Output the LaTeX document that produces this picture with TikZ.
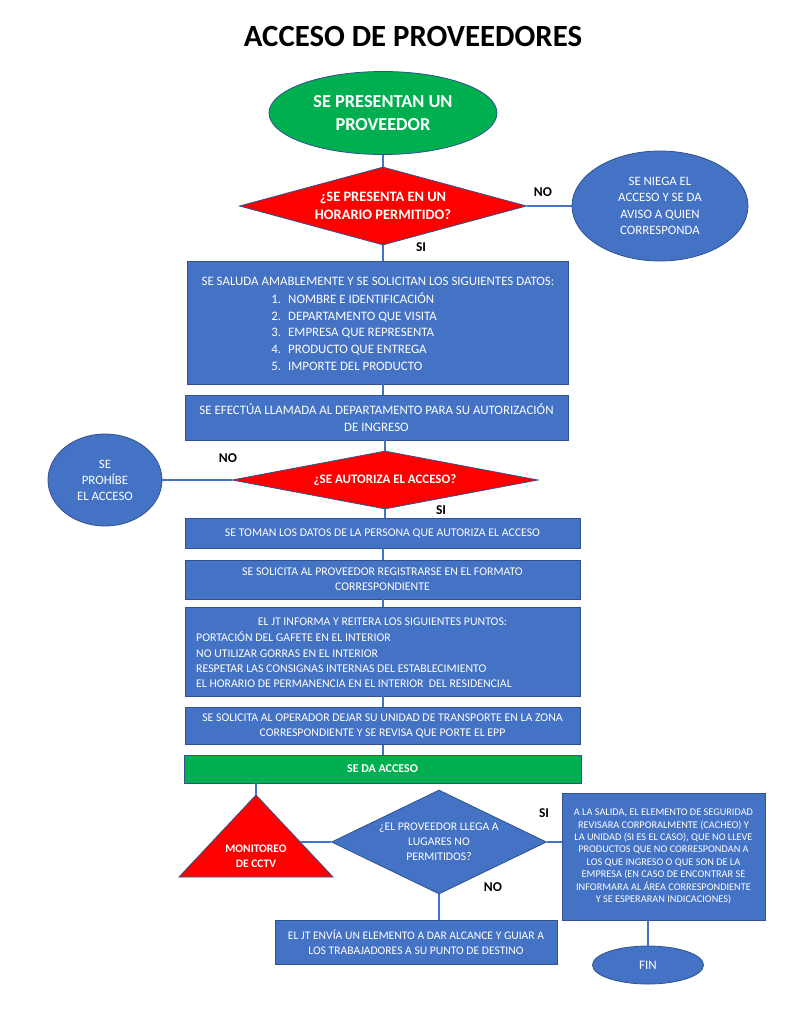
\documentclass[tikz,border=0pt]{standalone}
\usepackage{fontspec}
\setmainfont{Carlito}
\usetikzlibrary{shapes.geometric}
\definecolor{boxblue}{HTML}{4472C4}
\definecolor{bordc}{HTML}{2F528F}
\definecolor{lineblue}{HTML}{4472C4}
\definecolor{okgreen}{HTML}{00B050}
\definecolor{alarm}{HTML}{FF0000}
\newcommand{\fsz}[2]{\fontsize{#1}{#2}\selectfont}
\tikzset{
  shp/.style={draw=bordc, line width=0.8pt, text=white, inner sep=0pt, align=center},
  bx/.style={shp, fill=boxblue, rectangle},
  conn/.style={draw=lineblue, line width=1.3pt},
  lbl/.style={font=\bfseries\fsz{13.5}{16}, text=black, inner sep=0pt},
  wtxt/.style={text=white, inner sep=0pt},
}
\begin{document}
\begin{tikzpicture}[x=1pt,y=-1pt]
\useasboundingbox (0,0) rectangle (791,1024);
\fill[white] (0,0) rectangle (791,1024);

% title
\node[inner sep=0pt, font=\bfseries\fsz{30.8}{34}] (title) at (413,37) {ACCESO DE PROVEEDORES};

% start
\node[shp, ellipse, fill=okgreen, minimum width=228, minimum height=83, font=\bfseries\fsz{18.3}{23}] (start) at (383,113) {SE PRESENTAN UN\\PROVEEDOR};

% decision 1
\node[shp, diamond, fill=alarm, minimum width=287, minimum height=78, aspect=3.7, font=\bfseries\fsz{14.4}{18}] (d1) at (383,206) {¿SE PRESENTA EN UN\\HORARIO PERMITIDO?};

% deny ellipse
\node[shp, ellipse, fill=boxblue, minimum width=176, minimum height=110, font=\fsz{12.8}{16.5}] (e1) at (660,206) {SE NIEGA EL\\ACCESO Y SE DA\\AVISO A QUIEN\\CORRESPONDA};

% box 1
\node[bx, minimum width=381, minimum height=123] (b1) at (377.5,322.5) {};
\node[wtxt, font=\fsz{12.9}{17}] (b1h) at (378,281) {SE SALUDA AMABLEMENTE Y SE SOLICITAN LOS SIGUIENTES DATOS:};
\node[wtxt, font=\fsz{12.9}{16.8}, align=left, anchor=west] (b1l) at (270,331.5) {%
\makebox[11pt][r]{1.}\hspace{7pt}NOMBRE E IDENTIFICACIÓN\\
\makebox[11pt][r]{2.}\hspace{7pt}DEPARTAMENTO QUE VISITA\\
\makebox[11pt][r]{3.}\hspace{7pt}EMPRESA QUE REPRESENTA\\
\makebox[11pt][r]{4.}\hspace{7pt}PRODUCTO QUE ENTREGA\\
\makebox[11pt][r]{5.}\hspace{7pt}IMPORTE DEL PRODUCTO};

% box 2
\node[bx, minimum width=383, minimum height=45, font=\fsz{12.9}{17}] (b2) at (376.5,417.5) {SE EFECTÚA LLAMADA AL DEPARTAMENTO PARA SU AUTORIZACIÓN\\DE INGRESO};

% decision 2
\node[shp, diamond, fill=alarm, minimum width=306, minimum height=58, aspect=5.2, font=\bfseries\fsz{12.9}{15}] (d2) at (385,480) {¿SE AUTORIZA EL ACCESO?};

% forbid ellipse
\node[shp, ellipse, fill=boxblue, minimum width=114, minimum height=92, font=\fsz{12.8}{16}] (e2) at (105,480) {SE\\PROHÍBE\\EL ACCESO};

% boxes 3-6
\node[bx, minimum width=395, minimum height=30, font=\fsz{11.8}{15}] (b3) at (382.5,533) {SE TOMAN LOS DATOS DE LA PERSONA QUE AUTORIZA EL ACCESO};
\node[bx, minimum width=395, minimum height=39, font=\fsz{11.8}{15}] (b4) at (382.5,579.5) {SE SOLICITA AL PROVEEDOR REGISTRARSE EN EL FORMATO\\CORRESPONDIENTE};
\node[bx, minimum width=395, minimum height=89] (b5) at (382.5,651.5) {};
\node[wtxt, font=\fsz{11.8}{15}] (b5h) at (382.5,622) {EL JT INFORMA Y REITERA LOS SIGUIENTES PUNTOS:};
\node[wtxt, font=\fsz{11.8}{15.3}, align=left, anchor=west] (b5l) at (196,660) {%
PORTACIÓN DEL GAFETE EN EL INTERIOR\\
NO UTILIZAR GORRAS EN EL INTERIOR\\
RESPETAR LAS CONSIGNAS INTERNAS DEL ESTABLECIMIENTO\\
EL HORARIO DE PERMANENCIA EN EL INTERIOR\ \ DEL RESIDENCIAL};
\node[bx, minimum width=395, minimum height=37, font=\fsz{11.8}{15.5}] (b6) at (382.5,726) {SE SOLICITA AL OPERADOR DEJAR SU UNIDAD DE TRANSPORTE EN LA ZONA\\CORRESPONDIENTE Y SE REVISA QUE PORTE EL EPP};

% access granted
\node[shp, rectangle, fill=okgreen, minimum width=397, minimum height=28, font=\bfseries\fsz{12}{14}] (ok) at (382.5,769) {SE DA ACCESO};

% triangle (CCTV)
\coordinate (triA) at (256,795);
\coordinate (triR) at (333,877);
\coordinate (triL) at (179,877);
\coordinate (triE) at (300,842);
\filldraw[fill=alarm, draw=bordc, line width=0.8pt] (triA) -- (triR) -- (triL) -- cycle;
\node[wtxt, font=\bfseries\fsz{11.5}{15}, align=center] (trit) at (256,856) {MONITOREO\\DE CCTV};

% decision 3
\node[shp, diamond, fill=boxblue, minimum width=215, minimum height=104, aspect=2.07, font=\fsz{11.7}{15}] (d3) at (439,842) {¿EL PROVEEDOR LLEGA A\\LUGARES NO\\PERMITIDOS?};

% box 7
\node[bx, minimum width=203, minimum height=127, font=\fsz{10.3}{12.4}] (b7) at (663.5,856.5) {A LA SALIDA, EL ELEMENTO DE SEGURIDAD\\REVISARA CORPORALMENTE (CACHEO) Y\\LA UNIDAD (SI ES EL CASO), QUE NO LLEVE\\PRODUCTOS QUE NO CORRESPONDAN A\\LOS QUE INGRESO O QUE SON DE LA\\EMPRESA (EN CASO DE ENCONTRAR SE\\INFORMARA AL ÁREA CORRESPONDIENTE\\Y SE ESPERARAN INDICACIONES)};

% box 8
\node[bx, minimum width=282, minimum height=44, font=\fsz{11.6}{15}] (b8) at (416,942) {EL JT ENVÍA UN ELEMENTO A DAR ALCANCE Y GUIAR A\\LOS TRABAJADORES A SU PUNTO DE DESTINO};

% end
\node[shp, ellipse, fill=boxblue, minimum width=111, minimum height=38, font=\fsz{13}{15}] (fin) at (648,965) {FIN};

% connectors
\draw[conn] (start.south) -- (d1.north);
\draw[conn] (d1.east) -- (e1.west);
\draw[conn] (d1.south) -- (d1.south |- b1.north);
\draw[conn] (b1.south -| d1.south) -- (b2.north -| d1.south);
\draw[conn] (b2.south -| d2.north) -- (d2.north);
\draw[conn] (d2.west) -- (e2.east);
\draw[conn] (d2.south) -- (d2.south |- b3.north);
\draw[conn] (b3.south -| d1.south) -- (b4.north -| d1.south);
\draw[conn] (b4.south -| d1.south) -- (b5.north -| d1.south);
\draw[conn] (b5.south -| d1.south) -- (b6.north -| d1.south);
\draw[conn] (b6.south -| d1.south) -- (ok.north -| d1.south);
\draw[conn] (ok.south -| triA) -- (triA);
\draw[conn] (triE) -- (d3.west);
\draw[conn] (d3.east) -- (d3.east -| b7.west);
\draw[conn] (d3.south) -- (d3.south |- b8.north);
\draw[conn] (fin.north |- b7.south) -- (fin.north);

% labels
\node[lbl] (no1) at (543,192) {NO};
\node[lbl] (si1) at (421,247) {SI};
\node[lbl] (no2) at (228,458) {NO};
\node[lbl] (si2) at (441,510) {SI};
\node[lbl] (si3) at (544,813) {SI};
\node[lbl] (no3) at (493,887) {NO};
\end{tikzpicture}
\end{document}
